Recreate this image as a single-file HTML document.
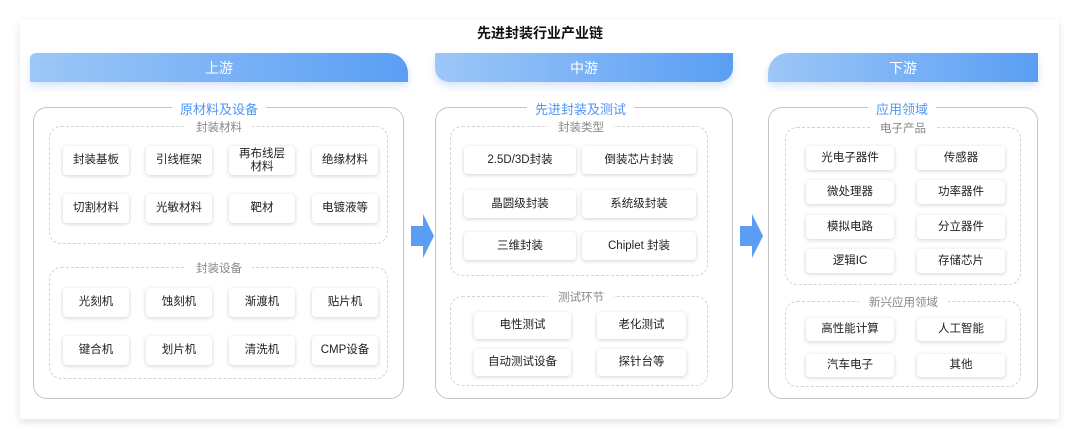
<!DOCTYPE html>
<html><head><meta charset="utf-8"><style>
*{margin:0;padding:0;box-sizing:border-box}
body{width:1080px;height:440px;background:#fff;position:relative;overflow:hidden;font-family:"Liberation Sans","Noto Sans CJK SC",sans-serif}
.abs{position:absolute}
.card{left:20px;top:20px;width:1039px;height:399px;background:#fff;box-shadow:0 3px 8px rgba(0,0,0,.12);border-radius:2px}
.title{left:0;width:1080px;top:23px;text-align:center;font-size:14px;font-weight:bold;color:#111}
.hd{height:29px;top:53px;background:linear-gradient(90deg,#9cc7f7,#5a9ef4);color:#fff;font-size:14px;text-align:center;line-height:31px;box-shadow:0 4px 8px rgba(90,150,240,.25)}
.panel{border:1px solid #c4c4c4;border-radius:14px;top:107px;height:292px}
.ptl{top:99px;font-size:13px;color:#4f96f2;background:#fff;padding:0 8px;text-align:center}
.inner{border:1px dashed #d2d2d2;border-radius:12px}
.itl{font-size:11.5px;color:#888;background:#fff;padding:0 10px}
.b{background:#fff;border-radius:4px;box-shadow:0 1px 4px rgba(0,0,0,.18);font-size:11.5px;color:#222;display:flex;align-items:center;justify-content:center;text-align:center;line-height:13px}
</style></head><body>
<div class="abs card"></div>
<div class="abs title">先进封装行业产业链</div>
<div class="abs hd" style="left:30px;width:378px;border-radius:0 20px 0 0;border-top-left-radius:6px">上游</div>
<div class="abs hd" style="left:435px;width:298px;border-radius:0 0 14px 14px">中游</div>
<div class="abs hd" style="left:768px;width:270px;border-radius:20px 0 0 0">下游</div>

<svg class="abs" style="left:408px;top:212px" width="28" height="48"><path d="M3 14H15V2L26 24L15 46V34H3Z" fill="#5a9ef4"/></svg>
<svg class="abs" style="left:737px;top:212px" width="28" height="48"><path d="M3 14H15V2L26 24L15 46V34H3Z" fill="#5a9ef4"/></svg>

<div class="abs panel" style="left:33px;width:371px"></div>
<div class="abs ptl" style="left:172px">原材料及设备</div>
<div class="abs inner" style="left:49px;top:126px;width:339px;height:118px"></div>
<div class="abs itl" style="left:186px;top:119px">封装材料</div>
<div class="abs inner" style="left:49px;top:267px;width:339px;height:112px"></div>
<div class="abs itl" style="left:186px;top:260px">封装设备</div>
<div class="abs b" style="left:63px;top:146px;width:66px;height:29px">封装基板</div>
<div class="abs b" style="left:146px;top:146px;width:66px;height:29px">引线框架</div>
<div class="abs b" style="left:229px;top:146px;width:66px;height:29px">再布线层<br>材料</div>
<div class="abs b" style="left:312px;top:146px;width:66px;height:29px">绝缘材料</div>
<div class="abs b" style="left:63px;top:194px;width:66px;height:29px">切割材料</div>
<div class="abs b" style="left:146px;top:194px;width:66px;height:29px">光敏材料</div>
<div class="abs b" style="left:229px;top:194px;width:66px;height:29px">靶材</div>
<div class="abs b" style="left:312px;top:194px;width:66px;height:29px">电镀液等</div>
<div class="abs b" style="left:63px;top:288px;width:66px;height:29px">光刻机</div>
<div class="abs b" style="left:146px;top:288px;width:66px;height:29px">蚀刻机</div>
<div class="abs b" style="left:229px;top:288px;width:66px;height:29px">渐渡机</div>
<div class="abs b" style="left:312px;top:288px;width:66px;height:29px">贴片机</div>
<div class="abs b" style="left:63px;top:336px;width:66px;height:29px">键合机</div>
<div class="abs b" style="left:146px;top:336px;width:66px;height:29px">划片机</div>
<div class="abs b" style="left:229px;top:336px;width:66px;height:29px">清洗机</div>
<div class="abs b" style="left:312px;top:336px;width:66px;height:29px">CMP设备</div>

<div class="abs panel" style="left:435px;width:298px"></div>
<div class="abs ptl" style="left:527px">先进封装及测试</div>
<div class="abs inner" style="left:450px;top:126px;width:258px;height:150px"></div>
<div class="abs itl" style="left:548px;top:119px">封装类型</div>
<div class="abs inner" style="left:450px;top:296px;width:258px;height:90px"></div>
<div class="abs itl" style="left:548px;top:289px">测试环节</div>
<div class="abs b" style="left:464px;top:146px;width:112px;height:28px">2.5D/3D封装</div>
<div class="abs b" style="left:582px;top:146px;width:114px;height:28px">倒装芯片封装</div>
<div class="abs b" style="left:464px;top:190px;width:112px;height:28px">晶圆级封装</div>
<div class="abs b" style="left:582px;top:190px;width:114px;height:28px">系统级封装</div>
<div class="abs b" style="left:464px;top:232px;width:112px;height:28px">三维封装</div>
<div class="abs b" style="left:582px;top:232px;width:114px;height:28px">Chiplet 封装</div>
<div class="abs b" style="left:474px;top:312px;width:97px;height:27px">电性测试</div>
<div class="abs b" style="left:597px;top:312px;width:89px;height:27px">老化测试</div>
<div class="abs b" style="left:474px;top:349px;width:97px;height:27px">自动测试设备</div>
<div class="abs b" style="left:597px;top:349px;width:89px;height:27px">探针台等</div>

<div class="abs panel" style="left:768px;width:270px"></div>
<div class="abs ptl" style="left:868px">应用领域</div>
<div class="abs inner" style="left:785px;top:127px;width:236px;height:158px"></div>
<div class="abs itl" style="left:870px;top:120px">电子产品</div>
<div class="abs inner" style="left:785px;top:301px;width:236px;height:86px"></div>
<div class="abs itl" style="left:859px;top:294px">新兴应用领域</div>
<div class="abs b" style="left:806px;top:146px;width:88px;height:24px">光电子器件</div>
<div class="abs b" style="left:917px;top:146px;width:88px;height:24px">传感器</div>
<div class="abs b" style="left:806px;top:180px;width:88px;height:24px">微处理器</div>
<div class="abs b" style="left:917px;top:180px;width:88px;height:24px">功率器件</div>
<div class="abs b" style="left:806px;top:215px;width:88px;height:24px">模拟电路</div>
<div class="abs b" style="left:917px;top:215px;width:88px;height:24px">分立器件</div>
<div class="abs b" style="left:806px;top:249px;width:88px;height:24px">逻辑IC</div>
<div class="abs b" style="left:917px;top:249px;width:88px;height:24px">存储芯片</div>
<div class="abs b" style="left:806px;top:318px;width:88px;height:23px">高性能计算</div>
<div class="abs b" style="left:917px;top:318px;width:88px;height:23px">人工智能</div>
<div class="abs b" style="left:806px;top:354px;width:88px;height:23px">汽车电子</div>
<div class="abs b" style="left:917px;top:354px;width:88px;height:23px">其他</div>
</body></html>
